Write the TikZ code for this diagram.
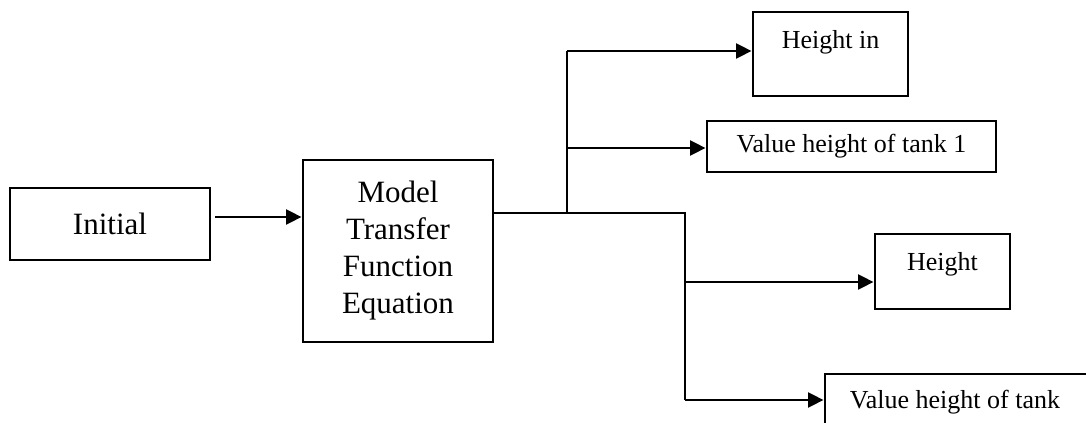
\documentclass[tikz,border=0pt]{standalone}
\usepackage{fontspec}
\setmainfont{Liberation Serif}
\usetikzlibrary{arrows.meta,calc}

\tikzset{
  block/.style={draw, rectangle, line width=2.2pt, inner sep=0pt, align=center},
  bigtext/.style={font=\fontsize{23.25pt}{27.75pt}\selectfont},
  smalltext/.style={font=\fontsize{19.5pt}{23pt}\selectfont},
  toplabel/.style={label={[anchor=center, yshift=-23.5pt, smalltext]north:#1}},
  wire/.style={line width=2.2pt},
  arr/.style={wire, -{Triangle[length=11.5pt, width=11pt]}}
}

\begin{document}
\begin{tikzpicture}[x=0.75pt, y=-0.75pt]
  \useasboundingbox (0,0) rectangle (1086,423);

  % blocks
  \node[block, bigtext, minimum width=150pt, minimum height=54pt] (init) at (110,224) {Initial};
  \node[block, bigtext, minimum width=142.5pt, minimum height=136.5pt] (model) at (398,251)
    {Model\\Transfer\\Function\\Equation};
  \node[block, minimum width=116.25pt, minimum height=63pt, toplabel={Height in}] (hin) at (830.5,54) {};
  \node[block, smalltext, minimum width=216.75pt, minimum height=38.25pt] (vh1) at (851.5,146.5) {Value height of tank 1};
  \node[block, minimum width=101.25pt, minimum height=56.25pt, toplabel={Height}] (hgt) at (942.5,271.5) {};
  \node[block, smalltext, minimum width=210pt, minimum height=42pt] (vht) at (965,402) {\hspace*{-15pt}Value height of tank};

  % branch points of the output bus
  \coordinate (j1) at (567,213);
  \coordinate (j2) at (685,213);
  \coordinate (t1) at (567,51);
  \coordinate (t2) at (567,148);
  \coordinate (t3) at (685,282);
  \coordinate (t4) at (685,400);

  % input
  \draw[arr] ($(init.east)+(4,-7)$) -- ($(model.west)+(0,-34)$);

  % output bus
  \draw[wire] (model.east |- j2) -- (j2) -- (t4);
  \draw[wire] (j1) -- (t1);

  % outputs
  \draw[arr] (t1) -- (t1 -| hin.west);
  \draw[arr] (t2) -- (t2 -| vh1.west);
  \draw[arr] (t3) -- (t3 -| hgt.west);
  \draw[arr] (t4) -- (t4 -| vht.west);
\end{tikzpicture}
\end{document}
